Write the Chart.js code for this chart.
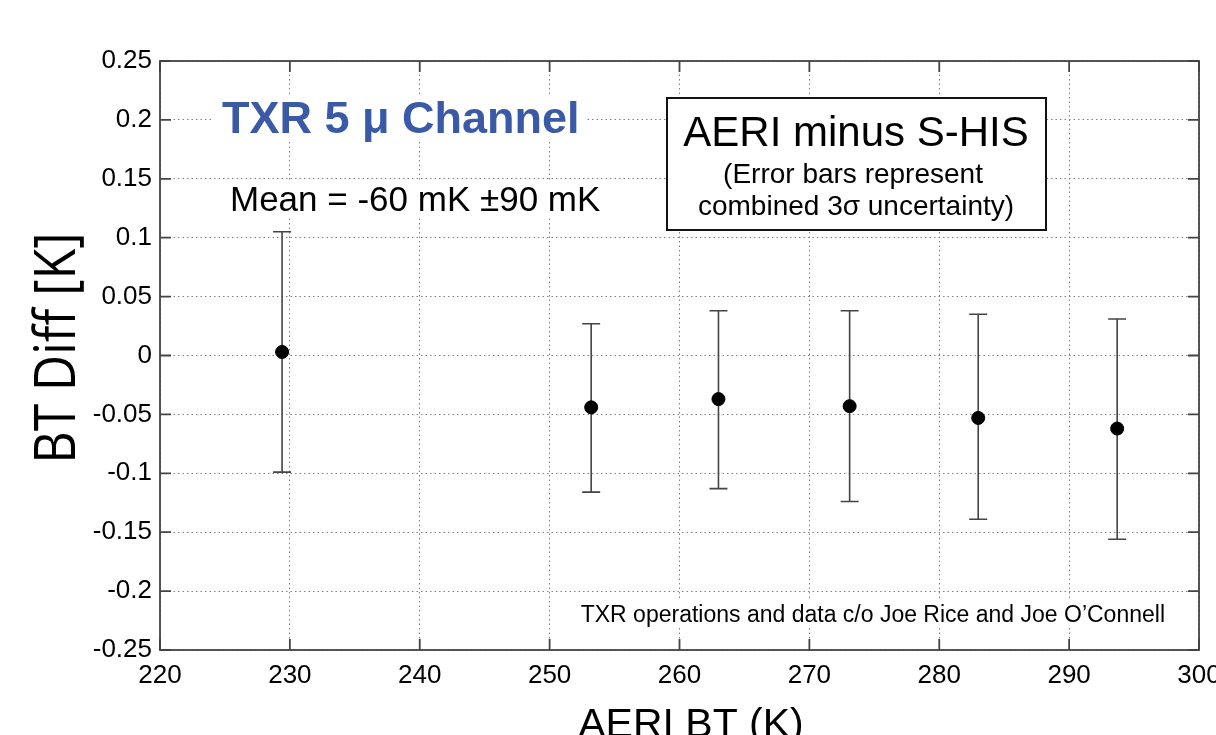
<!DOCTYPE html>
<html>
<head>
<meta charset="utf-8">
<script src="https://cdn.jsdelivr.net/npm/chart.js@4.4.1/dist/chart.umd.min.js"></script>
<style>
  html, body { margin: 0; padding: 0; background: #fff; }
  canvas { display: block; }
</style>
</head>
<body>
<canvas id="btChart" width="1216" height="735"></canvas>
<script>
// AERI minus S-HIS, TXR 5 micron channel
const xVals = [229.4, 253.2, 263.0, 273.1, 283.0, 293.7];
const yVals = [0.003, -0.044, -0.037, -0.043, -0.053, -0.062];
const errHigh = [0.105, 0.027, 0.038, 0.038, 0.035, 0.031];
const errLow = [-0.099, -0.116, -0.113, -0.124, -0.139, -0.156];

const xTicks = [220, 230, 240, 250, 260, 270, 280, 290, 300];
const yTicks = [0.25, 0.2, 0.15, 0.1, 0.05, 0, -0.05, -0.1, -0.15, -0.2, -0.25];

const SANS = "'Liberation Sans', Arial, Helvetica, sans-serif";

const points = xVals.map((x, i) => ({ x: x, y: yVals[i] }));

function whiteBox(ctx, x, y, w, h, border) {
    ctx.save();
    ctx.fillStyle = '#fff';
    ctx.fillRect(x, y, w, h);
    if (border) {
        ctx.strokeStyle = '#111';
        ctx.lineWidth = 2;
        ctx.strokeRect(x, y, w, h);
    }
    ctx.restore();
}

const decorations = {
    id: 'decorations',
    beforeDatasetsDraw(chart) {
        const ctx = chart.ctx;
        // text backgrounds hide the dotted grid like the original
        whiteBox(ctx, 214, 96, 372, 44);
        whiteBox(ctx, 224, 180, 384, 38);
        whiteBox(ctx, 667, 98, 379, 132, true);
        whiteBox(ctx, 568, 600, 604, 28);

        // error bars
        const xs = chart.scales.x, ys = chart.scales.y;
        ctx.save();
        ctx.strokeStyle = '#444';
        ctx.lineWidth = 1.6;
        xVals.forEach((x, i) => {
            const px = xs.getPixelForValue(x);
            const top = ys.getPixelForValue(errHigh[i]);
            const bot = ys.getPixelForValue(errLow[i]);
            ctx.beginPath();
            ctx.moveTo(px, top); ctx.lineTo(px, bot);
            ctx.moveTo(px - 9, top); ctx.lineTo(px + 9, top);
            ctx.moveTo(px - 9, bot); ctx.lineTo(px + 9, bot);
            ctx.stroke();
        });
        ctx.restore();
    },
    afterDraw(chart) {
        const ctx = chart.ctx;
        const a = chart.chartArea;
        const xs = chart.scales.x, ys = chart.scales.y;

        // axes box and inward ticks
        ctx.save();
        ctx.strokeStyle = '#444';
        ctx.lineWidth = 1.8;
        ctx.strokeRect(a.left, a.top, a.right - a.left, a.bottom - a.top);
        ctx.beginPath();
        xTicks.forEach(v => {
            const px = xs.getPixelForValue(v);
            ctx.moveTo(px, a.bottom); ctx.lineTo(px, a.bottom - 11);
            ctx.moveTo(px, a.top); ctx.lineTo(px, a.top + 11);
        });
        yTicks.forEach(v => {
            const py = ys.getPixelForValue(v);
            ctx.moveTo(a.left, py); ctx.lineTo(a.left + 11, py);
            ctx.moveTo(a.right, py); ctx.lineTo(a.right - 11, py);
        });
        ctx.stroke();
        ctx.restore();

        // annotations
        ctx.save();
        ctx.textBaseline = 'alphabetic';
        ctx.fillStyle = '#3a5aa8';
        ctx.font = 'bold 45px ' + SANS;
        ctx.textAlign = 'left';
        ctx.fillText('TXR 5 \u03bc Channel', 222, 133);

        ctx.fillStyle = '#000';
        ctx.font = '35px ' + SANS;
        ctx.fillText('Mean = -60 mK \u00b190 mK', 230, 211);

        ctx.textAlign = 'center';
        ctx.font = '42px ' + SANS;
        ctx.fillText('AERI minus S-HIS', 856, 146);
        ctx.font = '28px ' + SANS;
        ctx.fillText('(Error bars represent', 853, 183);
        ctx.fillText('combined 3\u03c3 uncertainty)', 856, 215);

        ctx.textAlign = 'right';
        ctx.font = '23px ' + SANS;
        ctx.fillText('TXR operations and data c/o Joe Rice and Joe O\u2019Connell', 1165, 622);

        // axis titles
        ctx.textAlign = 'center';
        ctx.font = '41px ' + SANS;
        ctx.fillText('AERI BT (K)', 691, 737);
        ctx.translate(75, 348);
        ctx.rotate(-Math.PI / 2);
        ctx.scale(0.89, 1);
        ctx.font = '56px "Open Sans", sans-serif';
        ctx.fillText('BT Diff [K]', 0, 0);
        ctx.restore();
    }
};

new Chart(document.getElementById('btChart').getContext('2d'), {
    type: 'scatter',
    data: {
        datasets: [{
            label: 'AERI minus S-HIS',
            data: points,
            backgroundColor: '#000',
            borderColor: '#000',
            pointRadius: 6.5,
            pointHoverRadius: 6.5
        }]
    },
    options: {
        responsive: false,
        animation: false,
        devicePixelRatio: 1,
        layout: { padding: { top: 61, right: 17, left: 0, bottom: 0 } },
        plugins: { legend: { display: false }, tooltip: { enabled: false } },
        scales: {
            x: {
                type: 'linear',
                min: 220, max: 300,
                afterFit(scale) { scale.height = 85; scale.paddingLeft = 0; scale.paddingRight = 0; },
                afterBuildTicks(scale) { scale.ticks = xTicks.map(v => ({ value: v })); },
                border: { display: false, dash: [1.5, 3] },
                grid: { color: '#808080', lineWidth: 1, drawTicks: false, tickLength: 0 },
                ticks: {
                    padding: 10, maxRotation: 0, autoSkip: false,
                    color: '#000', font: { family: SANS, size: 26 },
                    callback: v => String(v)
                }
            },
            y: {
                type: 'linear',
                min: -0.25, max: 0.25,
                afterFit(scale) { scale.width = 160; scale.paddingTop = 0; scale.paddingBottom = 0; },
                afterBuildTicks(scale) { scale.ticks = yTicks.map(v => ({ value: v })); },
                border: { display: false, dash: [1.5, 3] },
                grid: { color: '#808080', lineWidth: 1, drawTicks: false, tickLength: 0 },
                ticks: {
                    padding: 8, autoSkip: false,
                    color: '#000', font: { family: SANS, size: 26 },
                    callback: v => String(parseFloat(v.toFixed(2)))
                }
            }
        }
    },
    plugins: [decorations]
});
</script>
</body>
</html>
